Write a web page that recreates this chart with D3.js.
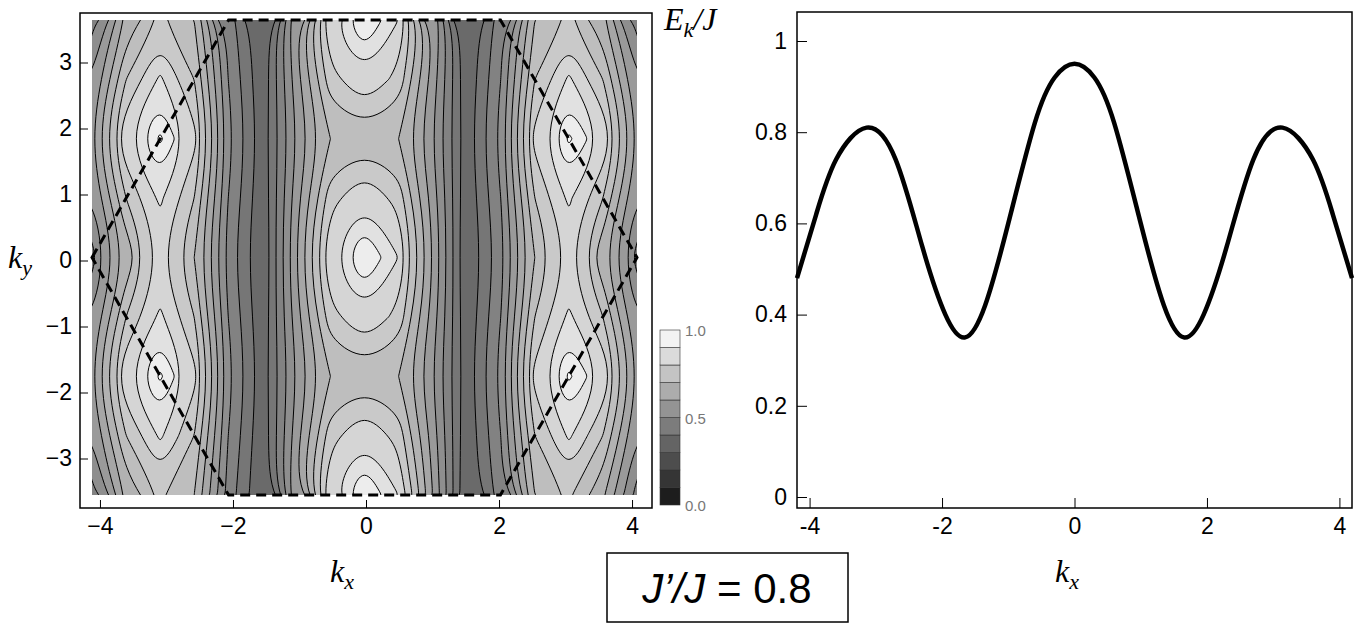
<!DOCTYPE html>
<html>
<head>
<script src="https://d3js.org/d3.v7.min.js"></script>
<style>
body { margin: 0; background: white; }
text { font-family: "Liberation Sans", Arial, sans-serif; }
.lab { font-family: "Liberation Serif", serif; font-style: italic; }
</style>
</head>
<body>
<svg id="chart" width="1358" height="629"></svg>
<script>
// contour grid: half columns kx (0 .. -4.19 mirrored), half rows ky (0 .. 3.63 mirrored)
var kxHalf = [-4.19, -3.67, -3.14, -2.62, -2.09, -1.65, -1.05, -0.52, 0];
var kyHalf = [3.63, 2.7, 1.8, 0.9, 0];
var gridHalf = [
  [0.48, 0.66, 0.76, 0.70, 0.48, 0.35, 0.60, 0.85, 0.95],
  [0.55, 0.75, 0.86, 0.75, 0.50, 0.36, 0.58, 0.78, 0.85],
  [0.60, 0.85, 0.96, 0.82, 0.52, 0.37, 0.55, 0.70, 0.72],
  [0.55, 0.75, 0.86, 0.75, 0.50, 0.36, 0.58, 0.78, 0.85],
  [0.48, 0.66, 0.81, 0.70, 0.48, 0.35, 0.60, 0.85, 0.95]
];
// line cut along ky = 0
var cutKx = [-4.19, -3.9, -3.6, -3.14, -2.7, -2.3, -1.95, -1.65, -1.35, -1.0, -0.6, -0.3, 0,
             0.3, 0.6, 1.0, 1.35, 1.65, 1.95, 2.3, 2.7, 3.14, 3.6, 3.9, 4.19];
var cutE = [0.48, 0.62, 0.74, 0.81, 0.74, 0.55, 0.40, 0.35, 0.42, 0.60, 0.82, 0.92, 0.95,
            0.92, 0.82, 0.60, 0.42, 0.35, 0.40, 0.55, 0.74, 0.81, 0.74, 0.62, 0.48];
var xTicksL = [-4, -2, 0, 2, 4], yTicksL = [-3, -2, -1, 0, 1, 2, 3];
var xTicksR = [-4, -2, 0, 2, 4], yTicksR = [0, 0.2, 0.4, 0.6, 0.8, 1];
var levels = d3.range(0, 1.05, 0.05);

var svg = d3.select("#chart");

// build full grid by mirroring
var kxFull = kxHalf.concat(kxHalf.slice(0, -1).reverse().map(function(d){ return -d; }));
var rowsFull = gridHalf.concat(gridHalf.slice(0, -1).reverse());
var nx = kxFull.length, ny = rowsFull.length;
var values = [];
rowsFull.forEach(function(r){
  var full = r.concat(r.slice(0, -1).reverse());
  full.forEach(function(v){ values.push(v); });
});

// left panel
var xL = d3.scaleLinear().domain([-4.19, 4.19]).range([92, 637]);
var yL = d3.scaleLinear().domain([-3.63, 3.63]).range([495, 20]);
var gray = d3.scaleLinear().domain([0, 1]).range(["#111", "#fff"]);

svg.append("rect").attr("x", 80).attr("y", 13).attr("width", 572).attr("height", 495)
  .attr("fill", "white").attr("stroke", "black").attr("stroke-width", 1.5);

var clip = svg.append("clipPath").attr("id", "clipL");
clip.append("rect").attr("x", 92).attr("y", 20).attr("width", 545).attr("height", 475);

var gx = d3.scaleLinear().domain([0.5, nx - 0.5]).range([xL(-4.19), xL(4.19)]);
var gy = d3.scaleLinear().domain([0.5, ny - 0.5]).range([yL(3.63), yL(-3.63)]);
var contours = d3.contours().size([nx, ny]).thresholds(levels)(values);
var ringLine = d3.line().curve(d3.curveBasisClosed);
function pathFor(c) {
  var s = "";
  c.coordinates.forEach(function(poly){
    poly.forEach(function(ring){
      s += ringLine(ring.map(function(p){ return [gx(p[0]), gy(p[1])]; }));
    });
  });
  return s;
}
var gC = svg.append("g").attr("clip-path", "url(#clipL)");
gC.append("rect").attr("x", 92).attr("y", 20).attr("width", 545).attr("height", 475).attr("fill", gray(0.3));
gC.selectAll("path").data(contours).enter().append("path")
  .attr("d", pathFor)
  .attr("fill", function(d){ return gray(d.value + 0.025); })
  .attr("fill-rule", "evenodd")
  .attr("stroke", "black").attr("stroke-width", 1);

// dashed hexagon (Brillouin zone)
var hex = [[-4.19, 0], [-2.09, 3.63], [2.09, 3.63], [4.19, 0], [2.09, -3.63], [-2.09, -3.63]];
svg.append("path")
  .attr("d", d3.line().x(function(d){ return xL(d[0]); }).y(function(d){ return yL(d[1]); })(hex) + "Z")
  .attr("fill", "none").attr("stroke", "black").attr("stroke-width", 3).attr("stroke-dasharray", "10,6");

function neg(d){ return d < 0 ? "\u2212" + (-d) : d; }
// left axes
svg.append("g").attr("transform", "translate(0,508)")
  .call(d3.axisBottom(xL.copy().domain([-4.3, 4.3]).range([80, 652])).tickValues(xTicksL).tickSize(-8).tickPadding(10).tickFormat(neg))
  .call(function(g){ g.select(".domain").remove(); g.selectAll("text").attr("font-size", 23); });
svg.append("g").attr("transform", "translate(80,0)")
  .call(d3.axisLeft(yL.copy().domain([-3.75, 3.75]).range([508, 13])).tickValues(yTicksL).tickSize(-8).tickPadding(8).tickFormat(neg))
  .call(function(g){ g.select(".domain").remove(); g.selectAll("text").attr("font-size", 23); });

// colorbar
var cb = d3.scaleLinear().domain([0, 1]).range([505, 330]);
var bands = d3.range(0, 1, 0.1);
svg.append("g").selectAll("rect").data(bands).enter().append("rect")
  .attr("x", 660).attr("width", 20)
  .attr("y", function(d){ return cb(d + 0.1); }).attr("height", cb(0) - cb(0.1))
  .attr("fill", function(d){ return gray(d + 0.05); }).attr("stroke", "#333").attr("stroke-width", 0.6);
svg.append("g").selectAll("text").data([0, 0.5, 1]).enter().append("text")
  .attr("x", 685).attr("y", function(d){ return cb(d) + 6; })
  .attr("font-size", 15).attr("fill", "#777").text(function(d){ return d.toFixed(1); });

// right panel
var xR = d3.scaleLinear().domain([-4.19, 4.19]).range([797, 1352]);
var yR = d3.scaleLinear().domain([0, 1.0]).range([497, 41]);
svg.append("rect").attr("x", 797).attr("y", 12).attr("width", 555).attr("height", 496)
  .attr("fill", "none").attr("stroke", "black").attr("stroke-width", 1.5);
svg.append("path").datum(cutKx.map(function(k, i){ return [k, cutE[i]]; }))
  .attr("d", d3.line().curve(d3.curveNatural).x(function(d){ return xR(d[0]); }).y(function(d){ return yR(d[1]); }))
  .attr("fill", "none").attr("stroke", "black").attr("stroke-width", 4.5);
svg.append("g").attr("transform", "translate(0,508)")
  .call(d3.axisBottom(xR).tickValues(xTicksR).tickSize(-10).tickPadding(10)
    .tickFormat(function(d){ return d < 0 ? "-" + (-d) : d; }))
  .call(function(g){ g.select(".domain").remove(); g.selectAll("text").attr("font-size", 23); });
svg.append("g").attr("transform", "translate(797,0)")
  .call(d3.axisLeft(yR).tickValues(yTicksR).tickSize(-10).tickPadding(10).tickFormat(d3.format("~g")))
  .call(function(g){ g.select(".domain").remove(); g.selectAll("text").attr("font-size", 23); });

// labels
svg.append("text").attr("class", "lab").attr("x", 8).attr("y", 268).attr("font-size", 32)
  .html('k<tspan dy="7" font-size="22">y</tspan>');
svg.append("text").attr("class", "lab").attr("x", 330).attr("y", 582).attr("font-size", 32)
  .html('k<tspan dy="7" font-size="22">x</tspan>');
svg.append("text").attr("class", "lab").attr("x", 1055).attr("y", 582).attr("font-size", 32)
  .html('k<tspan dy="7" font-size="22">x</tspan>');
svg.append("text").attr("class", "lab").attr("x", 664).attr("y", 30).attr("font-size", 32)
  .html('E<tspan dy="7" font-size="22">k</tspan><tspan dy="-7">/J</tspan>');
svg.append("rect").attr("x", 607).attr("y", 553).attr("width", 241).attr("height", 69)
  .attr("fill", "white").attr("stroke", "black").attr("stroke-width", 1.5);
svg.append("text").attr("x", 727).attr("y", 603).attr("text-anchor", "middle").attr("font-size", 42)
  .attr("font-family", "Liberation Serif, serif")
  .html('<tspan font-style="italic">J\u2019/J</tspan> = 0.8');
</script>
</body>
</html>
